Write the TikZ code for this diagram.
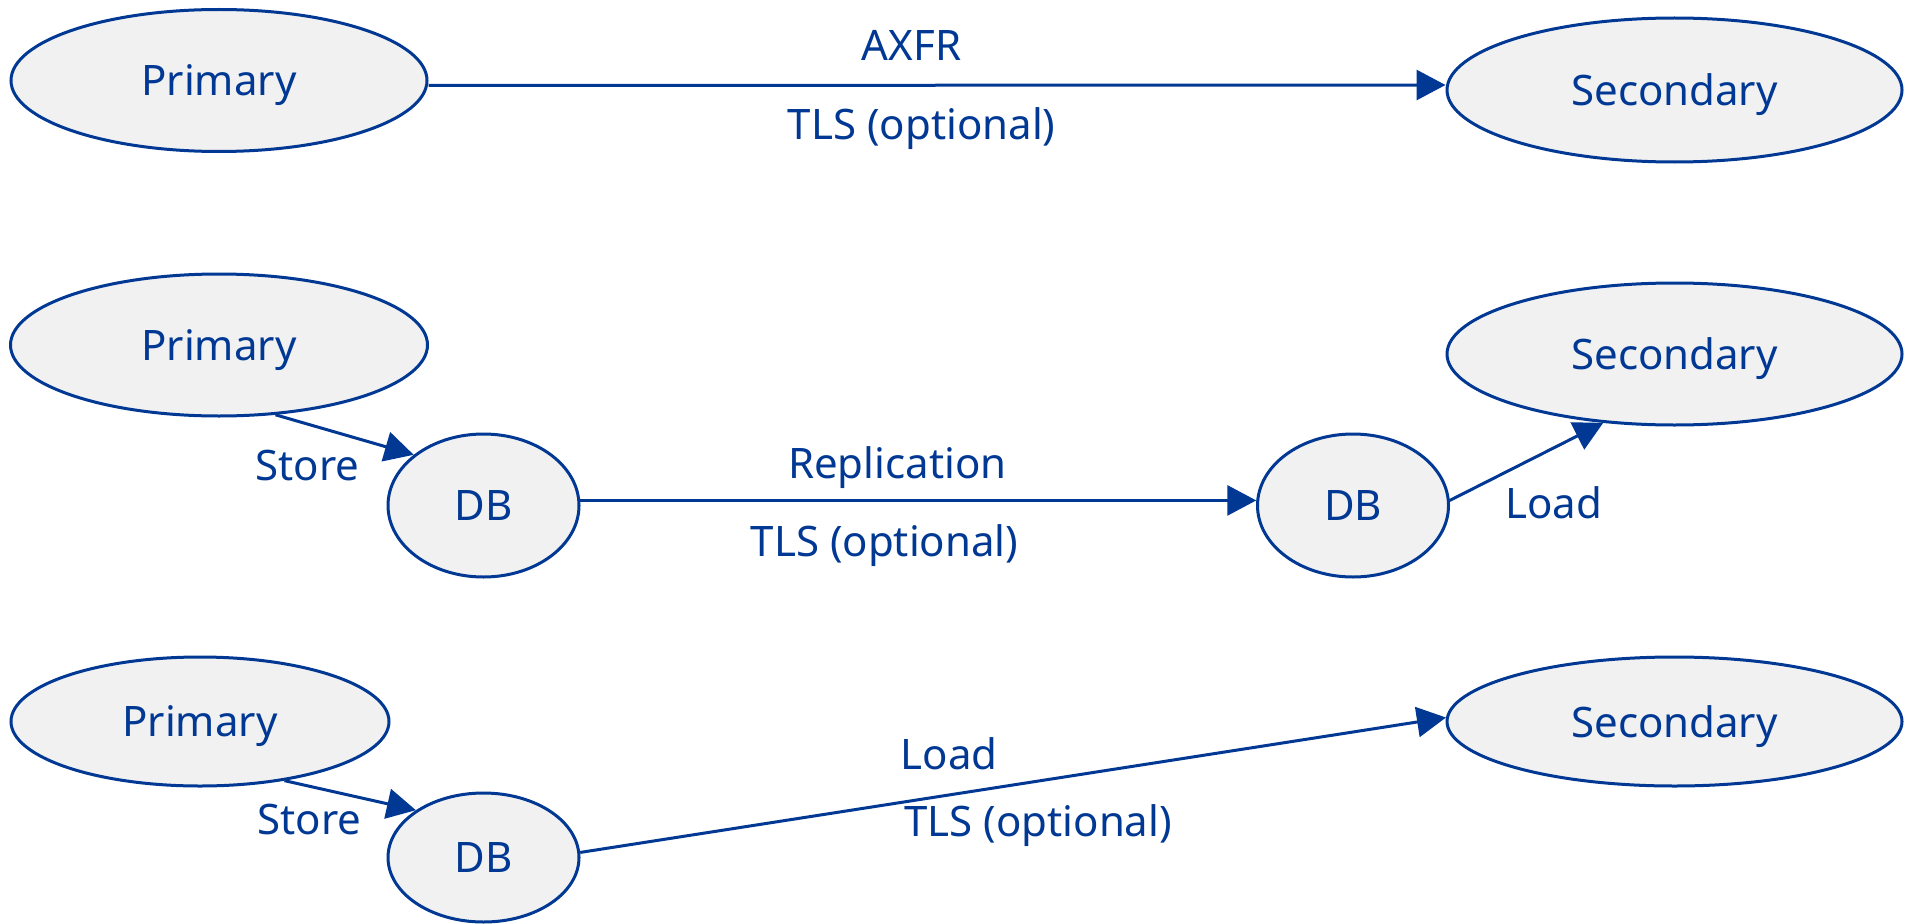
\documentclass[tikz,border=0pt]{standalone}
\usepackage{fontspec}
\setmainfont{Noto Sans}
\usetikzlibrary{shapes.geometric,arrows.meta}
\definecolor{dnsblue}{RGB}{0,56,147}
\definecolor{dnsgrey}{RGB}{241,241,241}

\begin{document}
\begin{tikzpicture}[x=1pt, y=-1pt,
  every node/.style={text=dnsblue, font=\fontsize{42}{50}\selectfont},
  srv/.style={ellipse, draw=dnsblue, fill=dnsgrey, line width=3pt, inner sep=0pt, text depth=0pt},
  link/.style={draw=dnsblue, line width=3pt, -{Triangle[length=29pt,width=30pt]}},
  lbl/.style={anchor=base}]

\useasboundingbox (0,0) rectangle (1910,923);

\node[srv, minimum width=416pt, minimum height=142pt] (p1) at (219,80.5) {Primary};
\node[srv, minimum width=455pt, minimum height=144pt] (s1) at (1674.5,90) {Secondary};

\draw[link] ([yshift=-5pt]p1.east) -- ([yshift=5pt]s1.west)
  node[lbl, pos=0.475, yshift=25pt] {AXFR}
  node[lbl, pos=0.485, yshift=-54pt] {TLS (optional)};

\node[srv, minimum width=417pt, minimum height=142pt] (p2) at (219,345) {Primary};
\node[srv, minimum width=455pt, minimum height=142pt] (s2) at (1674.5,354) {Secondary};
\node[srv, minimum width=191pt, minimum height=143pt] (db2a) at (483.5,505.5) {DB};
\node[srv, minimum width=191pt, minimum height=143pt] (db2b) at (1353,505.5) {DB};

\draw[link] (p2.-51) -- (db2a.144) node[lbl, pos=0.23, yshift=-56pt] {Store};
\draw[link] (db2a.3) -- (db2b.177)
  node[lbl, pos=0.469, yshift=21.5pt] {Replication}
  node[lbl, pos=0.45, yshift=-56.5pt] {TLS (optional)};
\draw[link] (db2b.3) -- (s2.224) node[lbl, pos=0.676, yshift=-70pt] {Load};

\node[srv, minimum width=378pt, minimum height=129pt] (p3) at (200,721.5) {Primary};
\node[srv, minimum width=455pt, minimum height=129pt] (s3) at (1674.5,721.5) {Secondary};
\node[srv, minimum width=191pt, minimum height=129pt] (db3) at (483.5,857.5) {DB};

\draw[link] (p3.-35) -- (db3.145) node[lbl, pos=0.19, yshift=-48.4pt] {Store};
\draw[link] (db3.3) -- (s3.179)
  node[lbl, pos=0.426, yshift=25.9pt] {Load}
  node[lbl, pos=0.529, yshift=-55.9pt] {TLS (optional)};

\end{tikzpicture}
\end{document}
